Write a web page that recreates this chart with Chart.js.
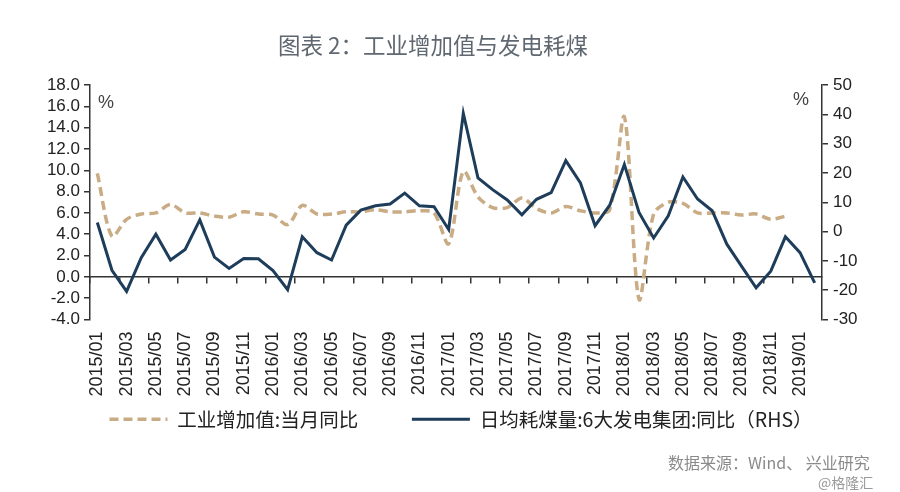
<!DOCTYPE html>
<html>
<head>
<meta charset="utf-8">
<script src="https://cdn.jsdelivr.net/npm/chart.js@4"></script>
<style>
  body { margin: 0; background: #fff; }
  #wrap { position: relative; width: 900px; height: 492px; }
  .txt { position: absolute; white-space: nowrap; font-family: "Noto Sans CJK SC", sans-serif; }
  #title { left: 278px; top: 28px; font-size: 22.5px; color: #5f6770; }
  .pct { font-family: "Liberation Sans", sans-serif; font-size: 18px; color: #444; }
  #src { left: 668px; top: 450px; font-size: 16px; color: #8a8a8a; }
  #wm { left: 818px; top: 472px; font-size: 14px; color: #9a9a9a; }
</style>
</head>
<body>
<div id="wrap">
  <canvas id="chart" width="900" height="492"></canvas>
  <div class="txt" id="title">图表 2：工业增加值与发电耗煤</div>
  <div class="txt pct" style="left:98px; top:92px;">%</div>
  <div class="txt pct" style="left:793px; top:89px;">%</div>
  <div class="txt" id="src">数据来源：Wind、 兴业研究</div>
  <div class="txt" id="wm">@格隆汇</div>
</div>
<script>
// ── DATA ──────────────────────────────────────────────
const months = [
  '2015/01','2015/02','2015/03','2015/04','2015/05','2015/06','2015/07','2015/08','2015/09','2015/10','2015/11','2015/12',
  '2016/01','2016/02','2016/03','2016/04','2016/05','2016/06','2016/07','2016/08','2016/09','2016/10','2016/11','2016/12',
  '2017/01','2017/02','2017/03','2017/04','2017/05','2017/06','2017/07','2017/08','2017/09','2017/10','2017/11','2017/12',
  '2018/01','2018/02','2018/03','2018/04','2018/05','2018/06','2018/07','2018/08','2018/09','2018/10','2018/11','2018/12',
  '2019/01','2019/02'
];

// 工业增加值:当月同比 (left axis, %)
const industryYoY = [
  9.7, 3.8, 5.4, 5.9, 6.0, 6.8, 6.0, 6.0, 5.7, 5.6, 6.1, 5.9,
  5.8, 4.9, 6.7, 5.9, 5.9, 6.1, 6.1, 6.3, 6.1, 6.1, 6.2, 6.0,
  3.1, 9.9, 7.5, 6.5, 6.5, 7.4, 6.4, 6.0, 6.6, 6.2, 6.0, 6.3,
  15.0, -2.1, 5.9, 7.0, 6.9, 6.0, 6.0, 6.0, 5.8, 5.9, 5.4, 5.7,
  null, null
];

// 日均耗煤量:6大发电集团:同比 (right axis, %)
const coalYoY = [
  3.1, -13.2, -20.4, -8.9, -0.9, -9.7, -6.1, 4.0, -8.7, -12.6, -9.2, -9.3,
  -13.3, -19.8, -1.8, -7.2, -9.7, 2.2, 7.3, 8.8, 9.4, 13.1, 8.8, 8.5,
  0.7, 40.3, 18.3, 14.3, 10.8, 5.7, 11.0, 13.3, 24.2, 16.6, 2.0, 9.0,
  22.9, 6.5, -2.2, 5.4, 18.6, 11.1, 7.1, -4.3, -11.8, -19.2, -13.5, -1.8,
  -7.2, -17.5
];

const seriesNames = ['工业增加值:当月同比', '日均耗煤量:6大发电集团:同比（RHS）'];

const leftTicks = { min: -4, max: 18, step: 2 };
const rightTicks = { min: -30, max: 50, step: 10 };

// ── STYLE ─────────────────────────────────────────────
const TAN = '#c9ab84';
const NAVY = '#1e3d5a';
const AXIS = '#333';
const tickFont = { family: 'Liberation Sans', size: 17 };

new Chart(document.getElementById('chart'), {
  type: 'line',
  data: {
    labels: months,
    datasets: [
      {
        label: seriesNames[0],
        data: industryYoY,
        yAxisID: 'y',
        xAxisID: 'x',
        borderColor: TAN,
        backgroundColor: TAN,
        borderWidth: 3.5,
        borderDash: [9, 5],
        pointRadius: 0,
        tension: 0.3,
        order: 2
      },
      {
        label: seriesNames[1],
        data: coalYoY,
        yAxisID: 'y1',
        xAxisID: 'x',
        borderColor: NAVY,
        backgroundColor: NAVY,
        borderWidth: 3,
        pointRadius: 0,
        tension: 0,
        order: 1
      }
    ]
  },
  options: {
    responsive: false,
    animation: false,
    // left padding only nudges the centred legend; y axis width makes up for it
    layout: { padding: { top: 85, bottom: 53, left: 22, right: 0 } },
    plugins: {
      tooltip: { enabled: false },
      legend: {
        position: 'bottom',
        labels: {
          usePointStyle: true,
          pointStyle: 'line',
          pointStyleWidth: 58,
          boxHeight: 19,
          padding: 5,
          color: '#222',
          font: { family: 'Noto Sans CJK SC', size: 19.5 },
          sort: (a, b) => a.datasetIndex - b.datasetIndex,
          generateLabels(chart) {
            const items = Chart.defaults.plugins.legend.labels.generateLabels(chart);
            items.forEach(it => {
              const ds = chart.data.datasets[it.datasetIndex];
              it.lineDash = ds.borderDash || [];
              it.lineWidth = ds.borderWidth;
              if (it.datasetIndex === 0) it.text += '\u3000\u3000\u2002';
            });
            return items;
          }
        }
      }
    },
    scales: {
      x: {
        type: 'category',
        position: 'bottom',
        offset: true,
        grid: { display: false, drawTicks: false },
        border: { display: false },
        ticks: {
          autoSkip: false,
          minRotation: 90,
          maxRotation: 90,
          padding: 12,
          color: '#222',
          font: { family: 'Liberation Sans', size: 18 },
          callback(value, index) {
            return index % 2 === 0 ? this.getLabelForValue(value) : '';
          }
        },
        afterFit(scale) { scale.height = 85; }
      },
      // axis line crossing at 0 of the left axis
      x2: {
        type: 'category',
        position: { y: 0 },
        offset: true,
        ticks: { display: false, autoSkip: false },
        grid: {
          offset: true,
          drawOnChartArea: false,
          tickLength: 6,
          lineWidth: 1.5,
          color: ctx => ctx.index % 2 === 0 ? AXIS : 'rgba(0,0,0,0)'
        },
        border: { display: true, color: AXIS, width: 1.5 }
      },
      y: {
        position: 'left',
        min: leftTicks.min,
        max: leftTicks.max,
        ticks: {
          stepSize: leftTicks.step,
          autoSkip: false,
          padding: 4,
          color: '#222',
          font: tickFont,
          callback: v => v.toFixed(1)
        },
        grid: { drawOnChartArea: false, tickLength: 6, color: AXIS, lineWidth: 1.5 },
        border: { display: true, color: AXIS, width: 1.5 },
        afterFit(scale) { scale.width = 68; }
      },
      y1: {
        position: 'right',
        min: rightTicks.min,
        max: rightTicks.max,
        ticks: {
          stepSize: rightTicks.step,
          autoSkip: false,
          padding: 5,
          color: '#222',
          font: tickFont
        },
        grid: { drawOnChartArea: false, tickLength: 6, color: AXIS, lineWidth: 1.5 },
        border: { display: true, color: AXIS, width: 1.5 },
        afterFit(scale) { scale.width = 78; }
      }
    }
  }
});
</script>
</body>
</html>
